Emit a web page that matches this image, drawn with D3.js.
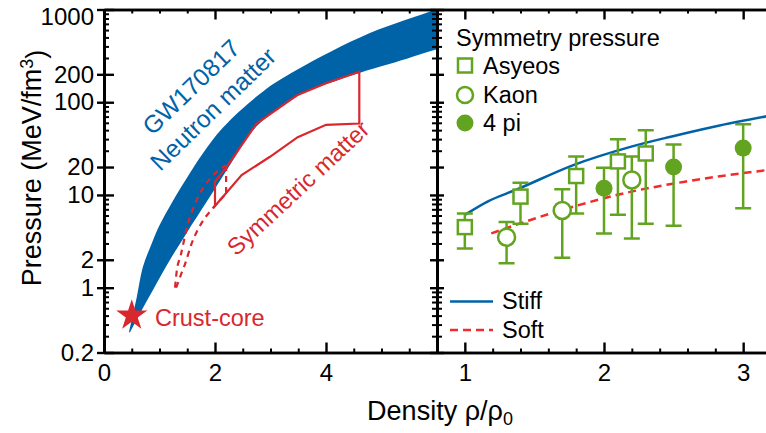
<!DOCTYPE html>
<html>
<head>
<meta charset="utf-8">
<script src="https://cdn.jsdelivr.net/npm/d3@7"></script>
<style>
body{margin:0;background:#fff;}
text{font-family:"Liberation Sans",Arial,sans-serif;}
.axis path,.axis line{stroke:#000;}
</style>
</head>
<body>
<div id="plot"></div>
<script>
// left panel: GW170817 band (density, pressure) pairs
var gwUpper = [[0.45,0.33],[0.59,0.79],[0.70,1.67],[0.86,3.0],[1.0,4.7],[1.22,8.2],[1.47,14.5],[1.78,28],[2.14,53],[2.86,130],[3.47,222],[4.78,553],[6.05,1040],[6.4,1300]];
var gwLower = [[0.47,0.33],[0.65,0.53],[0.88,0.94],[1.19,2.0],[1.49,3.9],[1.87,8.8],[2.27,21],[2.75,55],[3.49,117],[4.01,157],[4.6,207],[5.14,258],[6.05,381],[6.4,430]];

// symmetric matter (solid polygon and dashed extension)
var symSolid = [[2.0,13.9],[2.21,20.1],[2.75,59],[3.49,120],[4.0,160],[4.6,213],[4.6,59],[4.0,57],[3.49,42],[2.99,25.8],[2.48,16.4],[2.0,7.6]];
var symDashUpper = [[1.28,1.0],[1.31,1.5],[1.38,2.2],[1.5,4.6],[1.67,8.8],[1.91,15],[2.2,21]];
var symDashLower = [[1.3,1.0],[1.4,1.45],[1.46,1.8],[1.58,3.0],[1.76,5.0],[1.96,7.2],[2.2,10.3]];
var crustCore = [0.5,0.5];

// right panel: symmetry pressure
var asyRho = [1.0,1.4,1.8,2.1,2.3];
var asyP   = [4.5,9.6,16,23,28];
var asyHi  = [6.3,13.5,26,40,50];
var asyLo  = [2.65,4.9,6.3,6.1,4.9];

var kaonRho = [1.3,1.7,2.2];
var kaonP   = [3.5,6.8,14.5];
var kaonHi  = [5.1,11.5,26];
var kaonLo  = [1.83,2.1,3.4];

var piRho = [2.0,2.5,3.0];
var piP   = [11.8,20,32];
var piHi  = [19.6,35,58];
var piLo  = [3.85,4.65,7.2];

var stiffRho = [1.0,1.17,1.37,1.78,2.19,2.48,2.79,3.2];
var stiffP   = [6.1,8.6,11.4,21,33,42.5,54.5,72];
var softRho = [1.19,1.7,2.19,2.58,3.2];
var softP   = [3.85,6.9,10.8,13.9,18.8];

// ticks
var yMajor = [0.2,1,2,10,20,100,200,1000];
var yMinor = [0.3,0.4,0.5,0.6,0.7,0.8,0.9,3,4,5,6,7,8,9,30,40,50,60,70,80,90,300,400,500,600,700,800,900];
var xLMajor = [0,2,4,6], xLLabels = [0,2,4];
var xLMinor = [0.5,1,1.5,2.5,3,3.5,4.5,5,5.5];
var xRMajor = [1,2,3];
var xRMinor = [0.8,1.2,1.4,1.6,1.8,2.2,2.4,2.6,2.8,3.2];

var blue = '#0063a8', red = '#d9272e', green = '#62a420', dashRed = '#f22c2c';

var W = 766, H = 433;
var svg = d3.select('#plot').append('svg').attr('width',W).attr('height',H);

var top_ = 9.5, bot = 352.5;
var xL = d3.scaleLinear().domain([0,6]).range([104,437]);
var xR = d3.scaleLinear().domain([0.8,3.2]).range([437,771]);
var y = d3.scaleLog().domain([0.2,1000]).range([bot,top_]);

var defs = svg.append('defs');
defs.append('clipPath').attr('id','clipL').append('rect')
    .attr('x',104).attr('y',top_).attr('width',333).attr('height',bot-top_);
defs.append('clipPath').attr('id','clipR').append('rect')
    .attr('x',437).attr('y',top_).attr('width',340).attr('height',bot-top_);

// ---------- left panel marks ----------
var gL = svg.append('g').attr('clip-path','url(#clipL)');
var lineL = d3.line().x(function(d){return xL(d[0]);}).y(function(d){return y(d[1]);});

var band = gwUpper.concat(gwLower.slice().reverse());
gL.append('path')
    .attr('d', lineL.curve(d3.curveCatmullRom)(band) + 'Z')
    .style('fill', blue);

gL.append('path')
    .attr('d', d3.line().x(function(d){return xL(d[0]);}).y(function(d){return y(d[1]);})(symSolid) + 'Z')
    .style('fill','none').style('stroke',red).style('stroke-width',2.2);

var dashLine = d3.line().x(function(d){return xL(d[0]);}).y(function(d){return y(d[1]);}).curve(d3.curveMonotoneX);
gL.append('path')
    .attr('d', dashLine(symDashUpper))
    .style('fill','none').style('stroke',red).style('stroke-width',2.2).style('stroke-dasharray','6,5');
gL.append('path')
    .attr('d', dashLine(symDashLower))
    .style('fill','none').style('stroke',red).style('stroke-width',2.2).style('stroke-dasharray','6,5');
gL.append('line')
    .attr('x1',xL(2.2)).attr('x2',xL(2.2)).attr('y1',y(21)).attr('y2',y(10.3))
    .style('stroke',red).style('stroke-width',2.2).style('stroke-dasharray','6,5');

svg.append('path')
    .attr('d', d3.symbol().type(d3.symbolStar).size(300)())
    .attr('transform','translate('+xL(crustCore[0])+','+y(crustCore[1])+')')
    .style('fill',red);

// left panel labels
svg.append('text').attr('transform','translate(191,87) rotate(-44)')
    .attr('text-anchor','middle').attr('dy','0.35em')
    .style('font-size','24.5px').style('fill',blue).text('GW170817');
svg.append('text').attr('transform','translate(213,109) rotate(-44)')
    .attr('text-anchor','middle').attr('dy','0.35em')
    .style('font-size','24.5px').style('fill',blue).text('Neutron matter');
svg.append('text').attr('transform','translate(298,188) rotate(-43)')
    .attr('text-anchor','middle').attr('dy','0.35em')
    .style('font-size','23.5px').style('fill',red).text('Symmetric matter');
svg.append('text').attr('x',155).attr('y',326)
    .style('font-size','23.5px').style('fill',red).text('Crust-core');

// ---------- right panel marks ----------
var gR = svg.append('g').attr('clip-path','url(#clipR)');
var lineR = d3.line().x(function(d){return xR(d[0]);}).y(function(d){return y(d[1]);}).curve(d3.curveMonotoneX);

gR.append('path')
    .attr('d', lineR(d3.zip(stiffRho, stiffP)))
    .style('fill','none').style('stroke',blue).style('stroke-width',2.5);
gR.append('path')
    .attr('d', lineR(d3.zip(softRho, softP)))
    .style('fill','none').style('stroke',dashRed).style('stroke-width',2.5).style('stroke-dasharray','8,5');

function errorBars(rho, hi, lo) {
    var g = gR.append('g').style('stroke',green).style('stroke-width',2.5);
    g.selectAll('.eb').data(rho).enter().append('line')
        .attr('x1',function(d){return xR(d);}).attr('x2',function(d){return xR(d);})
        .attr('y1',function(d,i){return y(hi[i]);}).attr('y2',function(d,i){return y(lo[i]);});
    g.selectAll('.capH').data(rho).enter().append('line')
        .attr('x1',function(d){return xR(d)-8;}).attr('x2',function(d){return xR(d)+8;})
        .attr('y1',function(d,i){return y(hi[i]);}).attr('y2',function(d,i){return y(hi[i]);});
    g.selectAll('.capL').data(rho).enter().append('line')
        .attr('x1',function(d){return xR(d)-8;}).attr('x2',function(d){return xR(d)+8;})
        .attr('y1',function(d,i){return y(lo[i]);}).attr('y2',function(d,i){return y(lo[i]);});
}
errorBars(asyRho, asyHi, asyLo);
errorBars(kaonRho, kaonHi, kaonLo);
errorBars(piRho, piHi, piLo);

gR.selectAll('.asy').data(asyRho).enter().append('rect')
    .attr('x',function(d){return xR(d)-7;}).attr('y',function(d,i){return y(asyP[i])-7;})
    .attr('width',14).attr('height',14)
    .style('fill','#fff').style('stroke',green).style('stroke-width',2.5);
gR.selectAll('.kaon').data(kaonRho).enter().append('circle')
    .attr('cx',function(d){return xR(d);}).attr('cy',function(d,i){return y(kaonP[i]);})
    .attr('r',8.5)
    .style('fill','#fff').style('stroke',green).style('stroke-width',2.5);
gR.selectAll('.pi').data(piRho).enter().append('circle')
    .attr('cx',function(d){return xR(d);}).attr('cy',function(d,i){return y(piP[i]);})
    .attr('r',8.5).style('fill',green);

// legend
var leg = svg.append('g').style('font-size','23.5px');
leg.append('text').attr('x',456).attr('y',46).text('Symmetry pressure');
leg.append('rect').attr('x',458).attr('y',58.5).attr('width',14).attr('height',14)
    .style('fill','#fff').style('stroke',green).style('stroke-width',2.5);
leg.append('text').attr('x',483).attr('y',74).text('Asyeos');
leg.append('circle').attr('cx',465).attr('cy',95).attr('r',8)
    .style('fill','#fff').style('stroke',green).style('stroke-width',2.5);
leg.append('text').attr('x',483).attr('y',103).text('Kaon');
leg.append('circle').attr('cx',465).attr('cy',123).attr('r',8.5).style('fill',green);
leg.append('text').attr('x',483).attr('y',131).text('4 pi');

leg.append('line').attr('x1',450).attr('x2',493).attr('y1',301.5).attr('y2',301.5)
    .style('stroke',blue).style('stroke-width',2.5);
leg.append('text').attr('x',502).attr('y',309).text('Stiff');
leg.append('line').attr('x1',450).attr('x2',493).attr('y1',330).attr('y2',330)
    .style('stroke',dashRed).style('stroke-width',2.5).style('stroke-dasharray','8,5');
leg.append('text').attr('x',502).attr('y',338).text('Soft');

// ---------- axes ----------
function addAxis(axis, tx, ty, w, labels) {
    var g = svg.append('g').attr('class','axis')
        .attr('transform','translate('+tx+','+ty+')').call(axis);
    g.selectAll('line').style('stroke-width', w);
    g.select('.domain').style('stroke-width', 2.6);
    if (!labels) g.selectAll('text').remove();
    else g.selectAll('text').style('font-size','24px').style('font-family','"Liberation Sans",Arial,sans-serif');
    return g;
}
var fmt = function(d){return d;};

// left panel
addAxis(d3.axisBottom(xL).tickValues(xLMajor).tickSizeInner(-10).tickSizeOuter(0).tickFormat(''), 0, bot, 2.4, false);
addAxis(d3.axisBottom(xL).tickValues(xLMinor).tickSizeInner(-4).tickSizeOuter(0).tickFormat(''), 0, bot, 2, false);
addAxis(d3.axisBottom(xL).tickValues(xLLabels).tickSize(0).tickPadding(11).tickFormat(fmt), 0, bot, 2, true)
    .select('.domain').remove();
addAxis(d3.axisTop(xL).tickValues(xLMajor).tickSizeInner(-10).tickSizeOuter(0).tickFormat(''), 0, top_, 2.4, false);
addAxis(d3.axisTop(xL).tickValues(xLMinor).tickSizeInner(-4).tickSizeOuter(0).tickFormat(''), 0, top_, 2, false);

var yLab = addAxis(d3.axisLeft(y).tickValues(yMajor).tickSize(7).tickSizeOuter(0).tickPadding(3).tickFormat(fmt), 104, 0, 2.4, true);
// the top label sits a bit lower so it stays inside the picture
yLab.selectAll('.tick').filter(function(d){return d === 1000;}).select('text').attr('dy','0.62em');
addAxis(d3.axisLeft(y).tickValues(yMajor).tickSizeInner(-10).tickSizeOuter(0).tickFormat(''), 104, 0, 2.4, false);
addAxis(d3.axisLeft(y).tickValues(yMinor).tickSizeInner(-5).tickSizeOuter(0).tickFormat(''), 104, 0, 2, false);
addAxis(d3.axisRight(y).tickValues(yMajor).tickSizeInner(-7).tickSizeOuter(0).tickFormat(''), 437, 0, 2.4, false);
addAxis(d3.axisRight(y).tickValues(yMinor).tickSizeInner(-5).tickSizeOuter(0).tickFormat(''), 437, 0, 2, false);

// right panel
addAxis(d3.axisBottom(xR).tickValues(xRMajor).tickSizeInner(-10).tickSizeOuter(0).tickFormat(''), 0, bot, 2.4, false);
addAxis(d3.axisBottom(xR).tickValues(xRMinor).tickSizeInner(-4).tickSizeOuter(0).tickFormat(''), 0, bot, 2, false);
addAxis(d3.axisBottom(xR).tickValues(xRMajor).tickSize(0).tickPadding(11).tickFormat(fmt), 0, bot, 2, true)
    .select('.domain').remove();
addAxis(d3.axisTop(xR).tickValues(xRMajor).tickSizeInner(-10).tickSizeOuter(0).tickFormat(''), 0, top_, 2.4, false);
addAxis(d3.axisTop(xR).tickValues(xRMinor).tickSizeInner(-4).tickSizeOuter(0).tickFormat(''), 0, top_, 2, false);
addAxis(d3.axisLeft(y).tickValues(yMajor).tickSizeInner(-7).tickSizeOuter(0).tickFormat(''), 437, 0, 2.4, false);
addAxis(d3.axisLeft(y).tickValues(yMinor).tickSizeInner(-5).tickSizeOuter(0).tickFormat(''), 437, 0, 2, false);

// axis titles
var yt = svg.append('text').attr('transform','translate(41,168) rotate(-90)')
    .attr('text-anchor','middle').style('font-size','27px');
yt.append('tspan').text('Pressure (MeV/fm');
yt.append('tspan').attr('dy','-0.42em').style('font-size','18px').text('3');
yt.append('tspan').attr('dy','0.42em').text(')');

var xt = svg.append('text').attr('x',440).attr('y',420)
    .attr('text-anchor','middle').style('font-size','27px');
xt.append('tspan').text('Density \u03c1/\u03c1');
xt.append('tspan').attr('dy','0.3em').style('font-size','18px').text('0');
</script>
</body>
</html>
